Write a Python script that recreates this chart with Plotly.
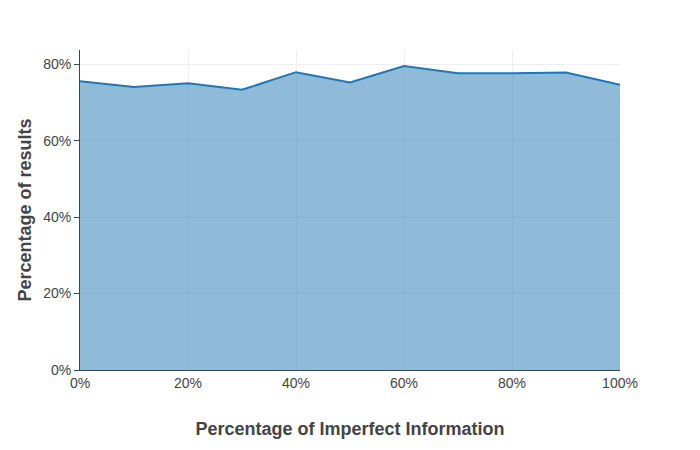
import plotly.graph_objects as go

x_vals = [0.0, 0.1, 0.2, 0.3, 0.4, 0.5, 0.6, 0.7, 0.8, 0.9, 1.0]
y_vals = [0.755, 0.740, 0.750, 0.733, 0.779, 0.752, 0.795, 0.776, 0.776, 0.778, 0.746]

fig = go.Figure()
fig.add_trace(go.Scatter(
    x=x_vals, y=y_vals, mode="lines", fill="tozeroy",
    line=dict(color="#1f77b4", width=2),
    fillcolor="rgba(31,119,180,0.5)",
    showlegend=False,
))

fig.update_layout(
    width=700, height=450,
    template="plotly_white",
    font=dict(family="Liberation Sans, Arial, sans-serif", color="#444"),
    margin=dict(l=72, r=88, t=42, b=88),
    xaxis=dict(
        title=dict(text="<b>Percentage of Imperfect Information</b>", font=dict(size=18), standoff=32),
        tickformat=".0%", range=[0, 1], dtick=0.2,
        showline=True, linecolor="#444", linewidth=1,
        gridcolor="#eee", zeroline=False,
        tickfont=dict(size=14), automargin=False,
    ),
    yaxis=dict(
        title=dict(text="<b>Percentage of results</b>", font=dict(size=18), standoff=6),
        tickformat=".0%", range=[0, 0.837], dtick=0.2,
        showline=True, linecolor="#444", linewidth=1,
        ticks="outside", ticklen=5, tickcolor="#444",
        gridcolor="#eee", zeroline=False,
        tickfont=dict(size=14), automargin=False,
    ),
)

fig.write_html("out.html")
